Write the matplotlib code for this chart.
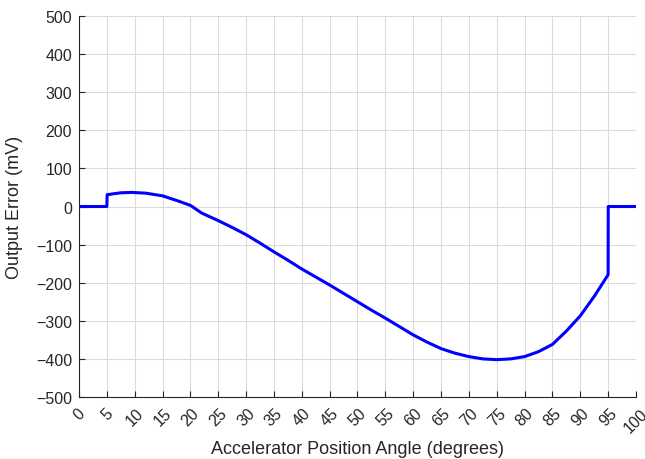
import matplotlib
matplotlib.use("Agg")
import matplotlib.pyplot as plt
import numpy as np

plt.rcParams['font.family'] = ['Liberation Sans', 'DejaVu Sans']

# accelerator angle (deg) vs output error (mV)
angle = [0, 5, 5.05, 6, 7.5, 9.5, 12, 15, 17.5, 20, 22, 25, 27.5, 30, 32.5,
         35, 37.5, 40, 42.5, 45, 47.5, 50, 52.5, 55, 57.5, 60, 62.5, 65,
         67.5, 70, 72.5, 75, 77.5, 80, 82.5, 85, 87.5, 90, 92.5, 95, 95.02, 100]
error_mv = [0, 0, 31, 33, 36, 37, 35, 28, 16, 3, -17, -37, -55, -74, -96,
            -119, -141, -164, -185, -206, -228, -250, -272, -293, -315, -337,
            -356, -373, -385, -394, -400, -402, -400, -394, -381, -362, -327,
            -287, -236, -179, 0, 0]

xticks = np.arange(0, 101, 5)
yticks = np.arange(-500, 501, 100)

fig = plt.figure(figsize=(6.45, 4.6), dpi=100)
ax = fig.add_axes([0.1225, 0.1348, 0.8635, 0.8282])

ax.plot(angle, error_mv, color='#0000ff', lw=2.2)

ax.set_xlim(0, 100)
ax.set_ylim(-500, 500)
ax.set_xticks(xticks)
ax.set_yticks(yticks)
ax.set_xticklabels([str(t) for t in xticks], rotation=45, ha='center', va='top')

ax.grid(True, color='#dcdcdc', lw=0.8)
ax.set_axisbelow(True)
for s in ['top', 'right']:
    ax.spines[s].set_visible(False)
for s in ['left', 'bottom']:
    ax.spines[s].set_color('#262626')
    ax.spines[s].set_linewidth(0.8)
ax.tick_params(direction='in', length=4, width=0.8, colors='#262626',
               labelsize=11.5)
ax.tick_params(axis='x', pad=6)
ax.tick_params(axis='y', pad=5)

ax.set_xlabel('Accelerator Position Angle (degrees)', fontsize=13, color='#262626')
ax.set_ylabel('Output Error (mV)', fontsize=13, color='#262626')
ax.xaxis.set_label_coords(0.5, -0.134)
ax.xaxis.label.set_va('center')
ax.yaxis.set_label_coords(-0.115, 0.5)
ax.yaxis.label.set_va('center')

fig.savefig('out.png', dpi=100)
